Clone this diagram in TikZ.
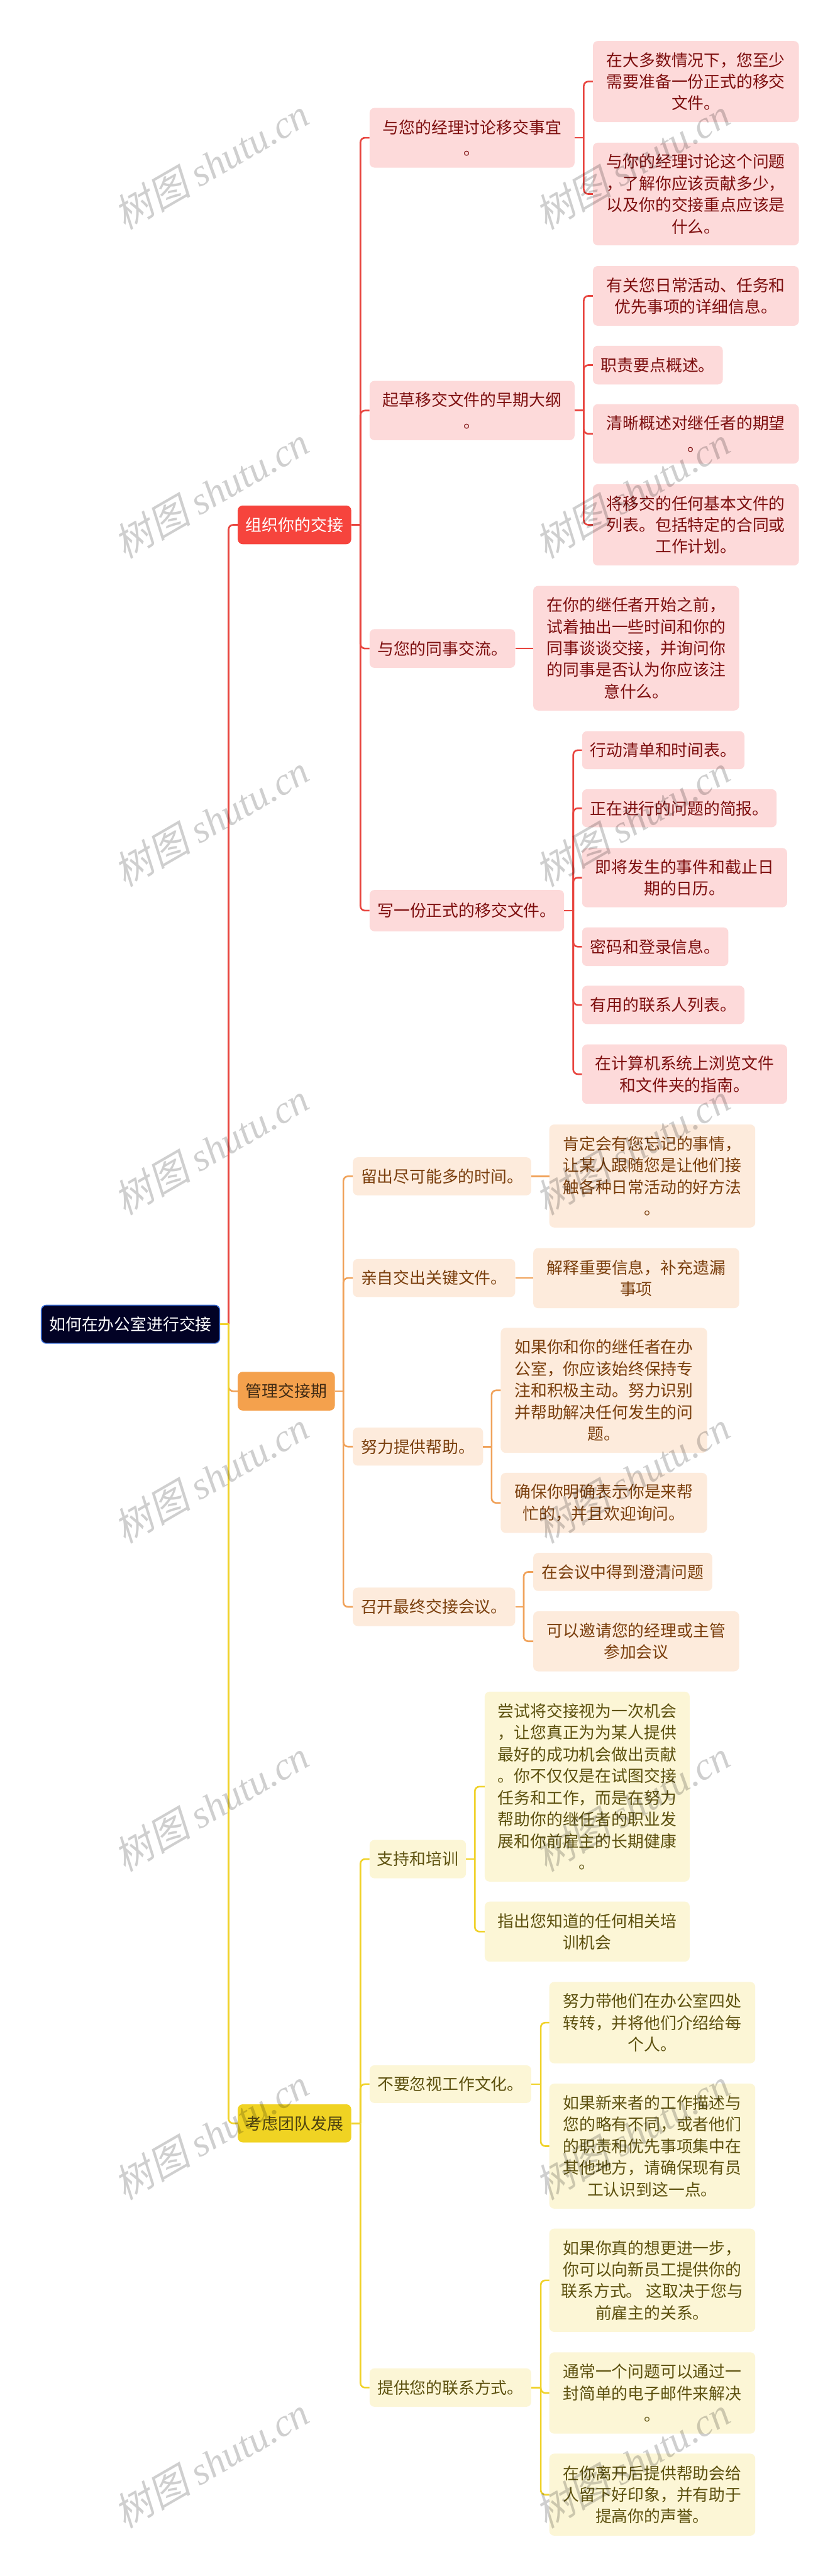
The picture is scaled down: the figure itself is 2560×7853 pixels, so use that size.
\documentclass[tikz,border=0pt]{standalone}
\usepackage{fontspec}
\setmainfont{Noto Sans CJK SC}
\newfontfamily\wmcjk[FakeSlant=0.22]{Noto Sans CJK SC}
\newfontfamily\wmlat{Liberation Serif}
\definecolor{rootfill}{HTML}{020225}
\definecolor{rootedge}{HTML}{3D6FD6}
\definecolor{redmain}{HTML}{F6443D}
\definecolor{redline}{HTML}{E8453F}
\definecolor{redlight}{HTML}{FDDADA}
\definecolor{redtext}{HTML}{7D0E0E}
\definecolor{orgmain}{HTML}{F4A14D}
\definecolor{orgline}{HTML}{F0A25A}
\definecolor{orglight}{HTML}{FDEBDC}
\definecolor{orgtext}{HTML}{7A3E0C}
\definecolor{orgtitle}{HTML}{3F2A14}
\definecolor{yelmain}{HTML}{F0D323}
\definecolor{yelline}{HTML}{F0D22A}
\definecolor{yellight}{HTML}{FCF6D6}
\definecolor{yeltext}{HTML}{5C500E}
\definecolor{yeltitle}{HTML}{4A4010}
\newcommand\mkbox[7]{%
  \pgfmathsetmacro\bxcx{(#3+#5)/2}\pgfmathsetmacro\bxcy{(#4+#6)/2}%
  \pgfmathsetmacro\bxw{#5-#3}\pgfmathsetmacro\bxh{#6-#4}%
  \node[#2, minimum width=\bxw pt, minimum height=\bxh pt] (#1) at (\bxcx,\bxcy) {#7};}
\newcommand\mklink[4]{%
  \draw[#1] (#2.east) -- (#2.east -| #4);
  \draw[#1, rounded corners=14pt] (#2.east -| #4) |- (#3.west);}
\newcommand\mkstraight[3]{\draw[#1] (#2.east) -- (#2.east -| #3.west);}
\tikzset{
  base/.style={rounded corners=15pt, inner sep=0pt, align=center, font=\fontsize{49.5}{66}\selectfont},
  rootbox/.style={base, fill=rootfill, draw=rootedge, line width=3pt, text=white},
  redtop/.style={base, fill=redmain, text=white},
  redsub/.style={base, fill=redlight, text=redtext},
  orgtop/.style={base, fill=orgmain, text=orgtitle},
  orgsub/.style={base, fill=orglight, text=orgtext},
  yeltop/.style={base, fill=yelmain, text=yeltitle},
  yelsub/.style={base, fill=yellight, text=yeltext},
  rl/.style={draw=redline, line width=5pt},
  ol/.style={draw=orgline, line width=5pt},
  yl/.style={draw=yelline, line width=5pt},
  wm/.style={rotate=30, text=black, text opacity=0.19, inner sep=0pt}
}
\begin{document}
\begin{tikzpicture}[x=1pt, y=-1pt]
\fill[white] (0,0) rectangle (2560,7853);
\useasboundingbox (0,0) rectangle (2560,7853);
% mid coordinates
\coordinate (mT) at (697,0);
\coordinate (mR) at (1099,0);
\coordinate (mRa) at (1780,0);
\coordinate (mRd) at (1748,0);
\coordinate (mO) at (1047,0);
\coordinate (mOc) at (1499,0);
\coordinate (mOd) at (1597,0);
\coordinate (mY) at (1099,0);
\coordinate (mYa) at (1448,0);
\coordinate (mYb) at (1649,0);
% root
\mkbox{root}{rootbox}{126}{3979}{670}{4095}{如何在办公室进行交接}
% red branch
\mkbox{r}{redtop}{725}{1541}{1071}{1659}{组织你的交接}
\mkbox{ra}{redsub}{1127}{329}{1752}{511}{与您的经理讨论移交事宜\\。}
\mkbox{ra1}{redsub}{1808}{125}{2436}{372}{在大多数情况下，您至少\\需要准备一份正式的移交\\文件。}
\mkbox{ra2}{redsub}{1808}{435}{2436}{748}{与你的经理讨论这个问题\\，了解你应该贡献多少，\\以及你的交接重点应该是\\什么。}
\mkbox{rb}{redsub}{1127}{1161}{1752}{1342}{起草移交文件的早期大纲\\。}
\mkbox{rb1}{redsub}{1808}{811}{2436}{993}{有关您日常活动、任务和\\优先事项的详细信息。}
\mkbox{rb2}{redsub}{1808}{1054}{2204}{1172}{职责要点概述。}
\mkbox{rb3}{redsub}{1808}{1232}{2436}{1413}{清晰概述对继任者的期望\\。}
\mkbox{rb4}{redsub}{1808}{1476}{2436}{1724}{将移交的任何基本文件的\\列表。包括特定的合同或\\工作计划。}
\mkbox{rc}{redsub}{1127}{1918}{1571}{2036}{与您的同事交流。}
\mkbox{rc1}{redsub}{1626}{1786}{2254}{2166}{在你的继任者开始之前，\\试着抽出一些时间和你的\\同事谈谈交接，并询问你\\的同事是否认为你应该注\\意什么。}
\mkbox{rd}{redsub}{1127}{2713}{1720}{2839}{写一份正式的移交文件。}
\mkbox{rd1}{redsub}{1775}{2229}{2270}{2345}{行动清单和时间表。}
\mkbox{rd2}{redsub}{1775}{2406}{2368}{2522}{正在进行的问题的简报。}
\mkbox{rd3}{redsub}{1775}{2585}{2400}{2766}{即将发生的事件和截止日\\期的日历。}
\mkbox{rd4}{redsub}{1775}{2827}{2221}{2945}{密码和登录信息。}
\mkbox{rd5}{redsub}{1775}{3005}{2270}{3122}{有用的联系人列表。}
\mkbox{rd6}{redsub}{1775}{3184}{2400}{3365}{在计算机系统上浏览文件\\和文件夹的指南。}
% orange branch
\mkbox{o}{orgtop}{725}{4182}{1021}{4300}{管理交接期}
\mkbox{oa}{orgsub}{1076}{3528}{1620}{3644}{留出尽可能多的时间。}
\mkbox{oa1}{orgsub}{1675}{3428}{2303}{3742}{肯定会有您忘记的事情，\\让某人跟随您是让他们接\\触各种日常活动的好方法\\。}
\mkbox{ob}{orgsub}{1076}{3838}{1571}{3954}{亲自交出关键文件。}
\mkbox{ob1}{orgsub}{1626}{3805}{2254}{3988}{解释重要信息，补充遗漏\\事项}
\mkbox{oc}{orgsub}{1076}{4352}{1473}{4468}{努力提供帮助。}
\mkbox{oc1}{orgsub}{1527}{4048}{2156}{4429}{如果你和你的继任者在办\\公室，你应该始终保持专\\注和积极主动。努力识别\\并帮助解决任何发生的问\\题。}
\mkbox{oc2}{orgsub}{1527}{4490}{2156}{4673}{确保你明确表示你是来帮\\忙的，并且欢迎询问。}
\mkbox{od}{orgsub}{1076}{4840}{1571}{4957}{召开最终交接会议。}
\mkbox{od1}{orgsub}{1626}{4734}{2172}{4850}{在会议中得到澄清问题}
\mkbox{od2}{orgsub}{1626}{4912}{2254}{5095}{可以邀请您的经理或主管\\参加会议}
% yellow branch
\mkbox{y}{yeltop}{725}{6415}{1071}{6531}{考虑团队发展}
\mkbox{ya}{yelsub}{1127}{5609}{1421}{5726}{支持和培训}
\mkbox{ya1}{yelsub}{1478}{5157}{2103}{5736}{尝试将交接视为一次机会\\，让您真正为为某人提供\\最好的成功机会做出贡献\\。你不仅仅是在试图交接\\任务和工作，而是在努力\\帮助你的继任者的职业发\\展和你前雇主的长期健康\\。}
\mkbox{ya2}{yelsub}{1478}{5797}{2103}{5980}{指出您知道的任何相关培\\训机会}
\mkbox{yb}{yelsub}{1127}{6296}{1620}{6411}{不要忽视工作文化。}
\mkbox{yb1}{yelsub}{1675}{6042}{2303}{6290}{努力带他们在办公室四处\\转转，并将他们介绍给每\\个人。}
\mkbox{yb2}{yelsub}{1675}{6352}{2303}{6733}{如果新来者的工作描述与\\您的略有不同，或者他们\\的职责和优先事项集中在\\其他地方，请确保现有员\\工认识到这一点。}
\mkbox{yc}{yelsub}{1127}{7220}{1620}{7337}{提供您的联系方式。}
\mkbox{yc1}{yelsub}{1675}{6794}{2303}{7109}{如果你真的想更进一步，\\你可以向新员工提供你的\\联系方式。 这取决于您与\\前雇主的关系。}
\mkbox{yc2}{yelsub}{1675}{7171}{2303}{7419}{通常一个问题可以通过一\\封简单的电子邮件来解决\\。}
\mkbox{yc3}{yelsub}{1675}{7480}{2303}{7730}{在你离开后提供帮助会给\\人留下好印象，并有助于\\提高你的声誉。}
% connectors: root to main branches
\mklink{rl}{root}{r}{mT}
\mklink{ol}{root}{o}{mT}
\mklink{yl}{root}{y}{mT}
% red
\mklink{rl}{r}{ra}{mR}
\mklink{rl}{r}{rb}{mR}
\mklink{rl}{r}{rc}{mR}
\mklink{rl}{r}{rd}{mR}
\mklink{rl}{ra}{ra1}{mRa}
\mklink{rl}{ra}{ra2}{mRa}
\mklink{rl}{rb}{rb1}{mRa}
\mklink{rl}{rb}{rb2}{mRa}
\mklink{rl}{rb}{rb3}{mRa}
\mklink{rl}{rb}{rb4}{mRa}
\mkstraight{rl}{rc}{rc1}
\mklink{rl}{rd}{rd1}{mRd}
\mklink{rl}{rd}{rd2}{mRd}
\mklink{rl}{rd}{rd3}{mRd}
\mklink{rl}{rd}{rd4}{mRd}
\mklink{rl}{rd}{rd5}{mRd}
\mklink{rl}{rd}{rd6}{mRd}
% orange
\mklink{ol}{o}{oa}{mO}
\mklink{ol}{o}{ob}{mO}
\mklink{ol}{o}{oc}{mO}
\mklink{ol}{o}{od}{mO}
\mkstraight{ol}{oa}{oa1}
\mkstraight{ol}{ob}{ob1}
\mklink{ol}{oc}{oc1}{mOc}
\mklink{ol}{oc}{oc2}{mOc}
\mklink{ol}{od}{od1}{mOd}
\mklink{ol}{od}{od2}{mOd}
% yellow
\mklink{yl}{y}{ya}{mY}
\mklink{yl}{y}{yb}{mY}
\mklink{yl}{y}{yc}{mY}
\mklink{yl}{ya}{ya1}{mYa}
\mklink{yl}{ya}{ya2}{mYa}
\mklink{yl}{yb}{yb1}{mYb}
\mklink{yl}{yb}{yb2}{mYb}
\mklink{yl}{yc}{yc1}{mYb}
\mklink{yl}{yc}{yc2}{mYb}
\mklink{yl}{yc}{yc3}{mYb}
% watermark
\foreach \k in {0,...,7} {
  \node[wm] (wmL\k) at (644,500+1001*\k) {\fontsize{118}{118}\selectfont\wmcjk 树图 \wmlat\itshape shutu.cn};
  \node[wm] (wmR\k) at (1928,500+1001*\k) {\fontsize{118}{118}\selectfont\wmcjk 树图 \wmlat\itshape shutu.cn};
}
\end{tikzpicture}
\end{document}
